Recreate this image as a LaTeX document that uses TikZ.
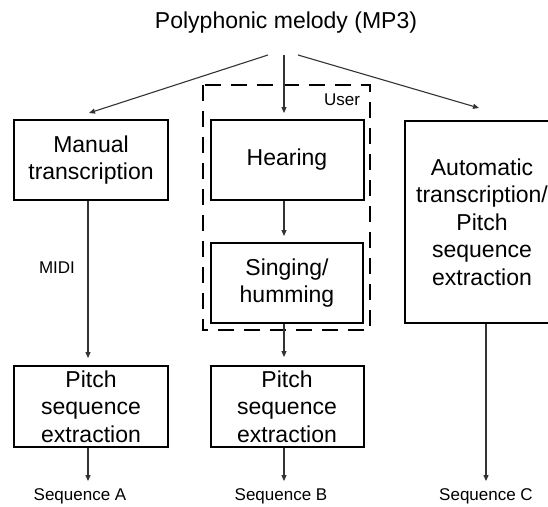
\documentclass[tikz,border=0pt]{standalone}
\usepackage{fontspec}
\setmainfont{Liberation Sans}
\usetikzlibrary{arrows.meta}
\begin{document}
\begin{tikzpicture}[x=1pt,y=-1pt,
  box/.style={draw=black,line width=2pt,rectangle,inner sep=0pt,align=center,
    font=\fontsize{23}{27.5}\selectfont,minimum width=154pt},
  arr/.style={draw=black!80,line width=1.1pt,-{Triangle[length=6pt,width=5pt]}},
  lbl/.style={font=\fontsize{17}{20}\selectfont,inner sep=0pt},
  userbox/.style={draw=black,line width=2.5pt,dash pattern=on 16pt off 10pt}
]
\useasboundingbox (0,0) rectangle (548,506);
\node[font=\fontsize{23}{27}\selectfont,inner sep=0pt] (title) at (286,23) {Polyphonic melody (MP3)};

\node[box,minimum height=80pt] (manual) at (91,160) {Manual\\transcription};
\node[box,minimum height=80pt,minimum width=153pt] (hear) at (287,160) {Hearing};
\node[box,minimum height=80pt,minimum width=152pt] (sing) at (287,283) {Singing/\\humming};
\node[box,minimum height=202pt] (auto) at (482,222) {Automatic\\transcription/\\Pitch\\sequence\\extraction};
\node[box,minimum height=81pt] (pitchA) at (91,406.5) {Pitch\\sequence\\extraction};
\node[box,minimum height=81pt,minimum width=153pt] (pitchB) at (287,406.5) {Pitch\\sequence\\extraction};

\draw[userbox] (203,85) rectangle (370,330);
\node[lbl] (user) at (342,100) {User};
\node[lbl] (midi) at (57,268) {MIDI};

\node[lbl] (seqA) at (80,496) {Sequence A};
\node[lbl] (seqB) at (281,496) {Sequence B};
\node[lbl] (seqC) at (486,496) {Sequence C};

\coordinate (sL) at (268,55);
\coordinate (sM) at (284,55);
\coordinate (sR) at (298,55);
\coordinate (tL) at (89,113);
\coordinate (tM) at (284,113);
\coordinate (tR) at (479,108);
\draw[arr] (sL) -- (tL);
\draw[arr] (sM) -- (tM);
\draw[arr] (sR) -- (tR);

\draw[arr,shorten >=6pt] (hear.south -| sM) -- (sing.north -| sM);
\draw[arr,shorten >=7pt] ([xshift=-3pt]manual.south) -- ([xshift=-3pt]pitchA.north);
\draw[arr,shorten >=8pt] (sing.south -| sM) -- (pitchB.north -| sM);
\draw[arr,shorten >=7pt] ([xshift=-3pt]pitchA.south) -- ([xshift=-3pt]pitchA.south |- seqA.north);
\draw[arr,shorten >=7pt] (pitchB.south -| sM) -- (sM |- seqB.north);
\draw[arr,shorten >=7pt] ([xshift=4pt]auto.south) -- ([xshift=4pt]auto.south |- seqC.north);
\end{tikzpicture}
\end{document}
